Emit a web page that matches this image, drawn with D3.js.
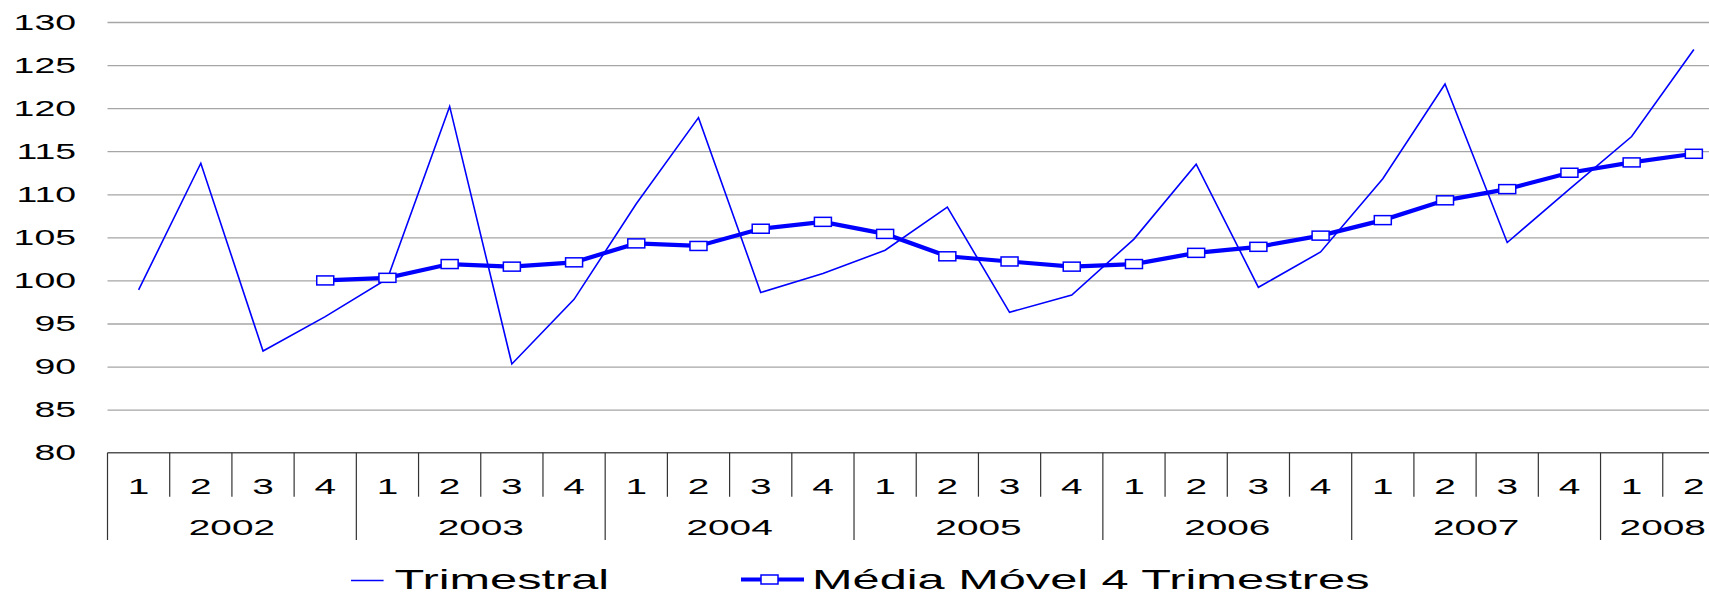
<!DOCTYPE html>
<html>
<head>
<meta charset="utf-8">
<script src="https://d3js.org/d3.v7.min.js"></script>
<style>
body { margin: 0; background: #fff; }
svg { display: block; }
text { font-family: "Liberation Sans", Arial, sans-serif; fill: #000; }
.grid line { stroke: #a6a6a6; stroke-width: 1.3; }
.grid path { display: none; }
</style>
</head>
<body>
<svg width="1709" height="592"></svg>
<script>

// chart data
var years = ["2002", "2003", "2004", "2005", "2006", "2007", "2008"];
var quarterYear = ["2002","2002","2002","2002","2003","2003","2003","2003","2004","2004","2004","2004",
                   "2005","2005","2005","2005","2006","2006","2006","2006","2007","2007","2007","2007",
                   "2008","2008"];
var quarterLabel = ["1","2","3","4","1","2","3","4","1","2","3","4","1","2","3","4",
                    "1","2","3","4","1","2","3","4","1","2"];
var trimestral = [98.9, 113.6, 91.8, 95.8, 100.2, 120.2, 90.3, 97.8, 108.9, 118.9, 98.6, 100.8,
                  103.5, 108.5, 96.3, 98.3, 104.8, 113.5, 99.2, 103.3, 111.8, 122.8, 104.4, 110.6,
                  116.7, 126.8];
var media = [null, null, null, 100.0, 100.3, 101.9, 101.6, 102.1, 104.3, 104.0, 106.0, 106.8,
             105.4, 102.8, 102.2, 101.6, 101.9, 103.2, 103.9, 105.2, 107.0, 109.3, 110.6, 112.5,
             113.7, 114.7];
var yTicks = [80, 85, 90, 95, 100, 105, 110, 115, 120, 125, 130];
var seriesNames = ["Trimestral", "Média Móvel 4 Trimestres"];

var svg = d3.select("svg");
var blue = "#0000ff";
var stretch = 1.74;   // the picture is wide: text is drawn stretched

var plotLeft = 107.5, band = 62.21,
    plotTop = 22, plotBottom = 452.7;

var x = d3.scaleBand()
    .domain(d3.range(quarterLabel.length))
    .range([plotLeft, plotLeft + band * quarterLabel.length]);

var y = d3.scaleLinear()
    .domain([80, 130])
    .range([plotBottom, plotTop]);

var cx = i => x(i) + x.bandwidth() / 2;

// wide text helper
function wideText(g, px, py, str, size, anchor) {
    g.append("text")
        .attr("transform", "translate(" + px + "," + py + ") scale(" + stretch + ",1)")
        .attr("text-anchor", anchor)
        .style("font-size", size + "px")
        .text(str);
}

// gridlines
svg.append("g")
    .attr("class", "grid")
    .attr("transform", "translate(" + plotLeft + ",0)")
    .call(d3.axisLeft(y).tickValues(yTicks.slice(1)).tickSize(-1700).tickFormat(""));

// y labels
var yl = svg.append("g");
yTicks.forEach(function(t) {
    wideText(yl, 76, y(t) + 7.5, String(t), 21.5, "end");
});

// x axis
var xa = svg.append("g");
xa.append("line")
    .attr("x1", plotLeft).attr("x2", 1709)
    .attr("y1", plotBottom).attr("y2", plotBottom)
    .attr("stroke", "#555").attr("stroke-width", 1.5);

quarterLabel.forEach(function(q, i) {
    var newYear = i == 0 || quarterYear[i] != quarterYear[i - 1];
    xa.append("line")
        .attr("x1", x(i)).attr("x2", x(i))
        .attr("y1", plotBottom).attr("y2", newYear ? 540 : 496.7)
        .attr("stroke", "#333").attr("stroke-width", 1.2);
    wideText(xa, cx(i), 493.5, q, 22.3, "middle");
});

years.forEach(function(yr) {
    var idx = d3.range(quarterYear.length).filter(i => quarterYear[i] == yr);
    var x0 = x(idx[0]), x1 = x(idx[idx.length - 1]) + x.bandwidth();
    wideText(xa, (x0 + x1) / 2, 534.5, yr, 22.3, "middle");
});

// series
var line = d3.line()
    .defined(d => d != null)
    .x((d, i) => cx(i))
    .y(d => y(d));

svg.append("path")
    .datum(trimestral)
    .attr("d", line)
    .attr("fill", "none")
    .attr("stroke", blue)
    .attr("stroke-width", 1.6);

svg.append("path")
    .datum(media)
    .attr("d", line)
    .attr("fill", "none")
    .attr("stroke", blue)
    .attr("stroke-width", 4.2);

svg.selectAll(".mark")
    .data(media.map((v, i) => ({v: v, i: i})).filter(d => d.v != null))
    .enter().append("rect")
    .attr("class", "mark")
    .attr("x", d => cx(d.i) - 8.5)
    .attr("y", d => y(d.v) - 4.5)
    .attr("width", 17)
    .attr("height", 9)
    .attr("fill", "#fff")
    .attr("stroke", blue)
    .attr("stroke-width", 1.5);

// legend
var lg = svg.append("g");
lg.append("line")
    .attr("x1", 351).attr("x2", 383.6).attr("y1", 580.5).attr("y2", 580.5)
    .attr("stroke", blue).attr("stroke-width", 1.6);
wideText(lg, 394.5, 589, seriesNames[0], 28, "start");

lg.append("line")
    .attr("x1", 741).attr("x2", 804).attr("y1", 579.5).attr("y2", 579.5)
    .attr("stroke", blue).attr("stroke-width", 4.2);
lg.append("rect")
    .attr("x", 761).attr("y", 575).attr("width", 17).attr("height", 9)
    .attr("fill", "#fff").attr("stroke", blue).attr("stroke-width", 1.5);
wideText(lg, 812, 589, seriesNames[1], 28, "start");

</script>
</body>
</html>
